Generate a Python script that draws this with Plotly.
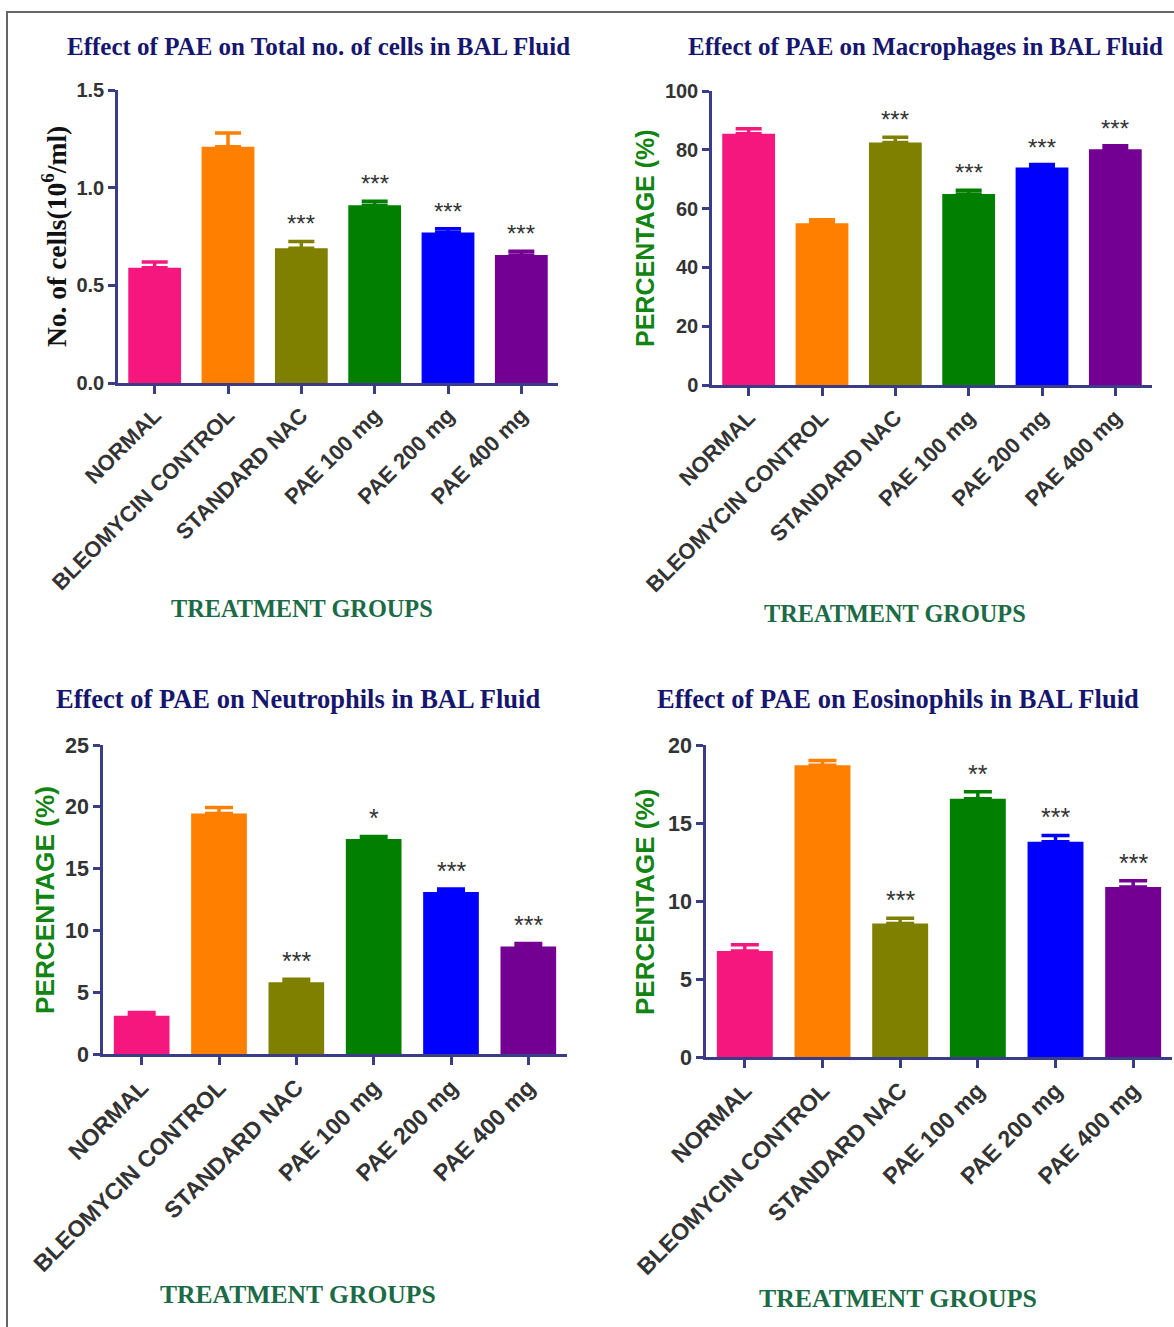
import plotly.graph_objects as go

W, H = 1174, 1327

groups = ["NORMAL", "BLEOMYCIN CONTROL", "STANDARD NAC", "PAE 100 mg", "PAE 200 mg", "PAE 400 mg"]
bar_colors = ["#f5167e", "#ff7f00", "#7f7f00", "#007f00", "#0000ff", "#730092"]

# Panel 1: total cells (10^6/ml)
total_mean = [0.59, 1.21, 0.69, 0.91, 0.77, 0.655]
total_sem = [0.03, 0.07, 0.035, 0.02, 0.02, 0.02]
total_sig = ["", "", "***", "***", "***", "***"]

# Panel 2: macrophages (%)
macro_mean = [85.5, 55.0, 82.5, 65.0, 74.0, 80.2]
macro_sem = [1.7, 1.2, 1.8, 1.2, 1.0, 1.2]
macro_sig = ["", "", "***", "***", "***", "***"]

# Panel 3: neutrophils (%)
neut_mean = [3.1, 19.45, 5.8, 17.4, 13.1, 8.7]
neut_sem = [0.25, 0.5, 0.25, 0.2, 0.25, 0.25]
neut_sig = ["", "", "***", "*", "***", "***"]

# Panel 4: eosinophils (%)
eos_mean = [6.8, 18.7, 8.55, 16.55, 13.8, 10.9]
eos_sem = [0.4, 0.3, 0.35, 0.45, 0.4, 0.4]
eos_sig = ["", "", "***", "**", "***", "***"]

titles = [
    "Effect of PAE on Total no. of cells in BAL Fluid",
    "Effect of PAE on Macrophages in BAL Fluid",
    "Effect of PAE on Neutrophils in BAL Fluid",
    "Effect of PAE on Eosinophils in BAL Fluid",
]
y_titles = ["No. of cells(10<sup>6</sup>/ml)", "PERCENTAGE (%)", "PERCENTAGE (%)", "PERCENTAGE (%)"]
x_title = "TREATMENT GROUPS"
y_ranges = [[0, 1.5], [0, 100], [0, 25], [0, 20]]
y_dticks = [0.5, 20, 5, 5]
y_fmt = [".1f", "d", "d", "d"]

panels = [
    (total_mean, total_sem, total_sig),
    (macro_mean, macro_sem, macro_sig),
    (neut_mean, neut_sem, neut_sig),
    (eos_mean, eos_sem, eos_sig),
]

# layout geometry in pixels (x0, x1, ybottom, ytop)
geo = [
    (118, 558, 383, 90),
    (712, 1152, 385, 91),
    (103, 567, 1054, 745),
    (706, 1172, 1057, 745),
]
title_pos = [(318, 47), (925, 47), (298, 699), (898, 699)]
ytitle_pos = [(55, 237), (645, 238), (45, 900), (645, 902)]
xtitle_pos = [(302, 609), (895, 613), (298, 1294), (898, 1298)]
# font sizes per panel: title, x-title, y-title, x ticks, y ticks, stars
sizes = [
    dict(t=25, xt=24.3, yt=27.5, xk=22, yk=20, st=24),
    dict(t=25, xt=24.3, yt=25, xk=22, yk=20, st=24),
    dict(t=26.5, xt=25.6, yt=26.2, xk=23.2, yk=21.5, st=25),
    dict(t=26.5, xt=25.8, yt=26, xk=23.2, yk=21.5, st=25),
]
cap_w = [13, 13, 14, 14]

AX = "#3a3d85"
SERIF = "Liberation Serif, Times New Roman, serif"
SANS = "Liberation Sans, Arial, sans-serif"

data = []
layout = dict(
    width=W, height=H, margin=dict(l=0, r=0, t=0, b=0, autoexpand=False),
    paper_bgcolor="white", plot_bgcolor="white", showlegend=False,
)
annotations = []

for i, (mean, sem, sig) in enumerate(panels):
    n = "" if i == 0 else str(i + 1)
    sz = sizes[i]
    data.append(go.Bar(
        x=groups, y=mean,
        marker=dict(color=bar_colors, line=dict(width=0)),
        xaxis="x" + n, yaxis="y" + n, width=0.72, hoverinfo="skip",
    ))
    # upper-only error bars, one per bar so each takes the bar's colour
    for g, m, s, c in zip(groups, mean, sem, bar_colors):
        data.append(go.Scatter(
            x=[g], y=[m], mode="markers", marker=dict(size=1, color=c, opacity=0),
            error_y=dict(type="data", array=[s], arrayminus=[0], symmetric=False,
                         color=c, thickness=3.5, width=cap_w[i]),
            xaxis="x" + n, yaxis="y" + n, hoverinfo="skip",
        ))
    x0, x1, yb, yt = geo[i]
    layout["xaxis" + n] = dict(
        domain=[x0 / W, x1 / W], anchor="y" + n, automargin=False,
        showline=True, linecolor=AX, linewidth=2.5,
        ticks="outside", ticklen=8, tickwidth=2.5, tickcolor=AX,
        tickangle=-45, tickfont=dict(family=SANS, size=sz["xk"], color="#333333", weight="bold"),
        showgrid=False, zeroline=False, range=[-0.5, 5.5],
    )
    layout["yaxis" + n] = dict(
        domain=[1 - yb / H, 1 - yt / H], anchor="x" + n, automargin=False,
        range=y_ranges[i], dtick=y_dticks[i], tick0=0, tickformat=y_fmt[i],
        showline=True, linecolor=AX, linewidth=2.5,
        ticks="outside", ticklen=7, tickwidth=2.5, tickcolor=AX,
        tickfont=dict(family=SANS, size=sz["yk"], color="#333333", weight="bold"),
        showgrid=False, zeroline=False,
    )
    for g, m, s, lab in zip(groups, mean, sem, sig):
        if lab:
            annotations.append(dict(
                x=g, y=m + s, xref="x" + n, yref="y" + n, text=lab, showarrow=False,
                yanchor="bottom", yshift=2,
                font=dict(family=SANS, size=sz["st"], color="#333333"),
            ))
    tx, ty = title_pos[i]
    annotations.append(dict(
        x=tx / W, y=1 - ty / H, xref="paper", yref="paper", text="<b>" + titles[i] + "</b>",
        showarrow=False, xanchor="center", yanchor="middle",
        font=dict(family=SERIF, size=sz["t"], color="#16166e"),
    ))
    yx, yy = ytitle_pos[i]
    annotations.append(dict(
        x=yx / W, y=1 - yy / H, xref="paper", yref="paper", text="<b>" + y_titles[i] + "</b>",
        showarrow=False, textangle=-90, xanchor="center", yanchor="middle",
        font=(dict(family=SERIF, size=sz["yt"], color="#111111") if i == 0
              else dict(family=SANS, size=sz["yt"], color="#128412")),
    ))
    xx, xy = xtitle_pos[i]
    annotations.append(dict(
        x=xx / W, y=1 - xy / H, xref="paper", yref="paper", text="<b>" + x_title + "</b>",
        showarrow=False, xanchor="center", yanchor="middle",
        font=dict(family=SERIF, size=sz["xt"], color="#1b6b46"),
    ))

layout["annotations"] = annotations
layout["shapes"] = [dict(
    type="rect", xref="paper", yref="paper",
    x0=7 / W, x1=1.05, y0=-0.05, y1=1 - 12 / H,
    line=dict(color="#666666", width=2), fillcolor="rgba(0,0,0,0)", layer="above",
)]

fig = go.Figure(data=data, layout=layout)
fig.write_html("out.html")
